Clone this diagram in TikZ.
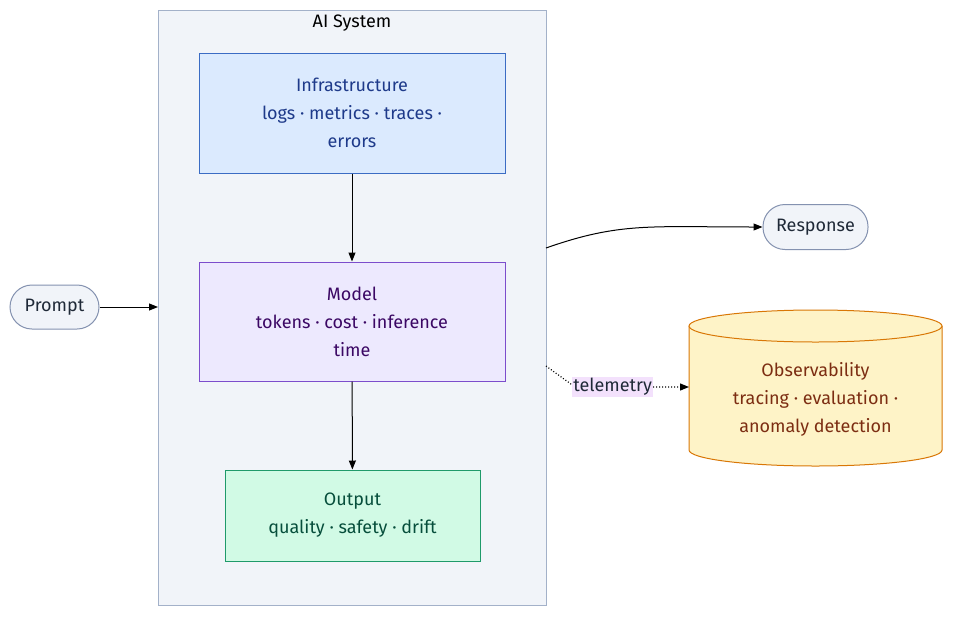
\documentclass[tikz,border=0pt]{standalone}
\usepackage{fontspec}
\setmainfont{Fira Sans}
\usetikzlibrary{arrows.meta,shapes.geometric}
\definecolor{clfill}{HTML}{F1F4F9}\definecolor{cldraw}{HTML}{A3B1C9}
\definecolor{infill}{HTML}{DBEAFE}\definecolor{indraw}{HTML}{3B6CC4}\definecolor{intext}{HTML}{1E3A8A}
\definecolor{mofill}{HTML}{EDE9FE}\definecolor{modraw}{HTML}{7C4DCC}\definecolor{motext}{HTML}{3B0764}
\definecolor{oufill}{HTML}{D1FAE5}\definecolor{oudraw}{HTML}{1F9A6A}\definecolor{outext}{HTML}{064E3B}
\definecolor{obfill}{HTML}{FEF3C7}\definecolor{obdraw}{HTML}{D97706}\definecolor{obtext}{HTML}{7C2D12}
\definecolor{pillfill}{HTML}{F1F4F9}\definecolor{pilldraw}{HTML}{8492B0}\definecolor{pilltext}{HTML}{1F2937}
\definecolor{lblbg}{HTML}{F3E1FC}
\tikzset{
 x=1pt,y=-1pt,
 every node/.style={font=\fontsize{18}{28}\selectfont},
 box/.style={draw,line width=1pt,align=center,inner sep=0pt},
 pill/.style={draw=pilldraw,fill=pillfill,text=pilltext,rounded corners=22pt,line width=1pt,inner sep=0pt},
 arr/.style={-{Triangle[length=9pt,width=7pt]},line width=1pt,black}
}
\begin{document}
\begin{tikzpicture}
\useasboundingbox (0,0) rectangle (960,621);
\fill[white] (0,0) rectangle (960,621);
\draw[cldraw,fill=clfill,line width=1pt] (158,10) rectangle (546,605);
\node (title) at (352,23) {AI System};
\coordinate (clL) at (158,307);
\coordinate (clR1) at (546,248);
\coordinate (clR2) at (546,366);
\node[box,draw=indraw,fill=infill,text=intext,minimum width=306pt,minimum height=120pt] (infra) at (352,113) {Infrastructure\\logs · metrics · traces ·\\errors};
\node[box,draw=modraw,fill=mofill,text=motext,minimum width=306pt,minimum height=119pt] (model) at (352,321.5) {Model\\tokens · cost · inference\\time};
\node[box,draw=oudraw,fill=oufill,text=outext,minimum width=255pt,minimum height=91pt] (output) at (352.5,515.5) {Output\\quality · safety · drift};
\node[pill,minimum width=89pt,minimum height=44pt] (prompt) at (54.5,307) {Prompt};
\node[pill,minimum width=105pt,minimum height=45pt] (resp) at (815.5,227) {Response};
% cylinder
\draw[obdraw,fill=obfill,line width=1pt] (689,326) -- (689,450) arc[start angle=180,end angle=0,x radius=126.5,y radius=16] -- (942,326);
\draw[obdraw,fill=obfill,line width=1pt] (815.5,326) ellipse[x radius=126.5,y radius=16];
\node[align=center,text=obtext] (obs) at (815.5,399) {Observability\\tracing · evaluation ·\\anomaly detection};
\coordinate (obsL) at (689,387);
\draw[arr] (prompt) -- (clL);
\draw[arr] (infra) -- (model);
\draw[arr] (model) -- (output);
\draw[arr] (clR1) .. controls (620,222) and (650,227) .. (resp.west);
\draw[arr,dotted,line width=1.2pt] (clR2) -- (575,387) -- (obsL) node[pos=0.33,fill=lblbg,inner sep=1pt,text=pilltext] (tel) {telemetry};
\end{tikzpicture}
\end{document}
